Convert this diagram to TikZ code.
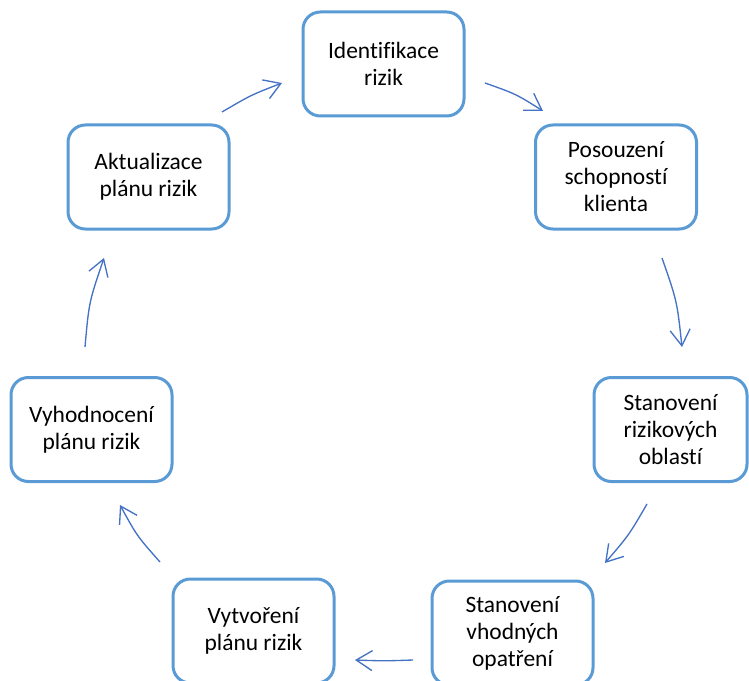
\documentclass[tikz,border=0pt]{standalone}
\usepackage{fontspec}
\setmainfont{Carlito}[Ligatures=NoCommon]
\usetikzlibrary{arrows.meta}
\definecolor{boxblue}{HTML}{5B9BD5}
\definecolor{arrowblue}{HTML}{4472C4}
\tikzset{
  stepbox/.style={draw=boxblue, line width=2.25pt, rounded corners=13pt, fill=white,
    align=center, font=\fontsize{17.6}{20.25}\selectfont, inner sep=0pt,
    minimum width=120.75pt, minimum height=78pt},
  cyclearrow/.style={draw=arrowblue, line width=1pt,
    -{Straight Barb[length=12pt,width=15pt,line width=1pt]}}
}
\begin{document}
\begin{tikzpicture}[x=0.75pt,y=-0.75pt]
\useasboundingbox (0,0) rectangle (749,681);
% boxes
\node[stepbox] (ident) at (383.5,64) {Identifikace\\rizik};
\node[stepbox] (posou) at (616,177) {Posouzení\\schopností\\klienta};
\node[stepbox, minimum width=114.75pt] (rizik) at (670.5,429.5) {Stanovení\\rizikových\\oblastí};
\node[stepbox] (opatr) at (512.5,633) {Stanovení\\vhodných\\opatření};
\node[stepbox] (vytvo) at (253.5,631) {Vytvoření\\plánu rizik};
\node[stepbox] (vyhod) at (91.5,429.5) {Vyhodnocení\\plánu rizik};
\node[stepbox] (aktua) at (148.5,177) {Aktualizace\\plánu rizik};
% arrow end points
\coordinate (a1s) at (485,83);  \coordinate (a1c) at (516,94);    \coordinate (a1e) at (543,111);
\coordinate (a2s) at (662,258); \coordinate (a2c) at (677,301);   \coordinate (a2e) at (682,347);
\coordinate (a3s) at (647,504); \coordinate (a3c) at (629,535);   \coordinate (a3e) at (605,563);
\coordinate (a4s) at (413,660); \coordinate (a4c) at (384,661);   \coordinate (a4e) at (355,660);
\coordinate (a5s) at (160,562); \coordinate (a5c) at (137,536);   \coordinate (a5e) at (120,505);
\coordinate (a6s) at (85,347);  \coordinate (a6c) at (89,302);    \coordinate (a6e) at (104,258);
\coordinate (a7s) at (222,112); \coordinate (a7c) at (251,95);    \coordinate (a7e) at (282,83);
\draw[cyclearrow] (a1s) .. controls (a1c) .. (a1e);
\draw[cyclearrow] (a2s) .. controls (a2c) .. (a2e);
\draw[cyclearrow] (a3s) .. controls (a3c) .. (a3e);
\draw[cyclearrow] (a4s) .. controls (a4c) .. (a4e);
\draw[cyclearrow] (a5s) .. controls (a5c) .. (a5e);
\draw[cyclearrow] (a6s) .. controls (a6c) .. (a6e);
\draw[cyclearrow] (a7s) .. controls (a7c) .. (a7e);
\end{tikzpicture}
\end{document}
